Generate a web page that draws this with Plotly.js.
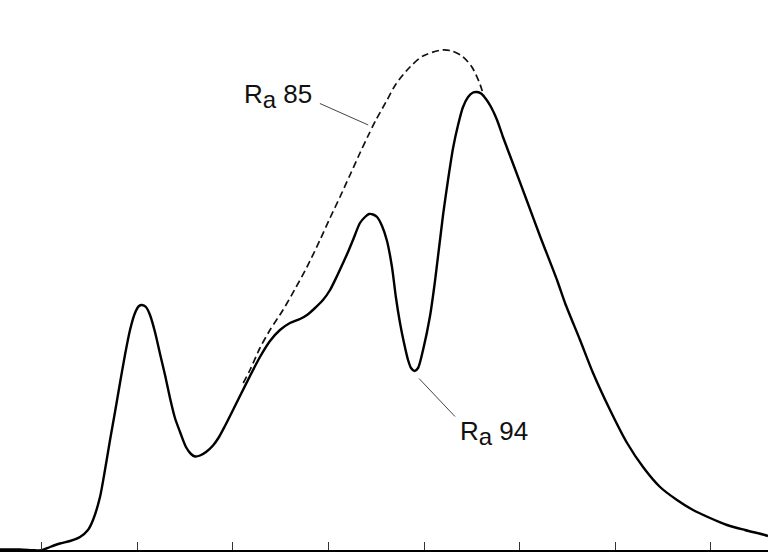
<!DOCTYPE html>
<html>
<head>
<meta charset="utf-8">
<script src="https://cdn.plot.ly/plotly-3.0.1.min.js"></script>
<style>
  html, body { margin: 0; padding: 0; background: #fff; }
  #chart { width: 768px; height: 554px; }
</style>
</head>
<body>
<div id="chart"></div>
<script>
// Solid curve (Ra 94)
const solidX = [-4.36, -2.27, -0.70, 0.03, 0.87, 1.91, 2.96, 4.01, 4.84, 5.37, 6.10, 6.62, 7.15, 7.67, 8.19, 8.71, 9.24, 9.76, 10.18, 10.49, 10.91, 11.33, 11.85, 12.38, 12.90, 13.42, 13.94, 14.47, 15.09, 15.62, 16.04, 16.56, 17.19, 17.92, 18.55, 19.17, 19.91, 20.74, 21.79, 22.83, 23.88, 24.92, 25.97, 27.02, 27.75, 28.59, 29.42, 30.16, 30.89, 31.52, 32.04, 32.56, 33.29, 33.82, 34.24, 34.66, 35.08, 35.60, 36.12, 36.64, 37.06, 37.48, 37.90, 38.32, 38.63, 39.00, 39.37, 39.89, 40.62, 41.14, 41.98, 42.50, 43.03, 43.55, 44.07, 44.60, 45.12, 45.54, 45.96, 46.47, 47.00, 47.63, 48.25, 49.51, 50.76, 52.12, 53.90, 54.74, 56.31, 57.67, 59.45, 61.23, 62.90, 64.68, 66.45, 68.13, 69.91, 71.68, 73.56, 75.65, 75.97];
const solidY = [0.1, 0.1, -0.06, -0.04, 0.6, 1.3, 1.8, 2.6, 4.0, 6.0, 10.6, 16, 22, 27.6, 33.4, 39, 44, 47.4, 48.8, 49, 48.6, 47, 43.6, 39.2, 35, 30.4, 26.4, 23.6, 20.6, 19.2, 18.7, 18.9, 19.6, 20.9, 22.6, 24.8, 27.6, 30.8, 34.8, 38.6, 41.8, 44, 45.4, 46.2, 47, 48.4, 50, 52, 54.8, 57.4, 59.6, 62, 65.4, 66.6, 67.2, 67.1, 66.6, 64.8, 61.8, 56.6, 50.4, 45.4, 41.4, 38, 36.4, 35.8, 36.4, 40, 46.8, 53.8, 67, 74, 80.4, 85, 88.6, 90.6, 91.5, 91.6, 91.3, 90.2, 88.6, 86, 82.6, 76.2, 69.8, 62.8, 54, 49.4, 42, 35.4, 28, 21.4, 16.6, 12.6, 10, 8, 6.4, 5, 4, 3, 2.8];

// Dashed curve (Ra 85)
const dashX = [21.08, 21.79, 22.83, 23.88, 25.24, 26.50, 27.75, 29.11, 30.16, 31.20, 32.25, 33.29, 34.13, 34.96, 36.01, 37.06, 38.52, 39.88, 41.87, 42.91, 43.96, 45.00, 45.84, 46.26];
const dashY = [33.4, 36, 40.4, 44, 48, 52.2, 56.6, 62, 66.4, 70.6, 75, 79.4, 82.8, 86, 89.6, 93.2, 96.6, 98.8, 100, 99.8, 98.8, 96.6, 93.2, 90.6];

// x ticks (no labels)
const tickVals = [0, 10, 20, 30, 40, 50, 60, 70];

// Labels and their leader lines
const labelTexts = ['R<sub><span style="font-size:24px">a</span></sub> 85', 'R<sub><span style="font-size:24px">a</span></sub> 94'];
const labelX = [20.93, 43.5];
const labelY = [90.8, 23.4];
const leaderX0 = [29.10, 39.47];
const leaderY0 = [89.3, 34.3];
const leaderX1 = [34.16, 43.23];
const leaderY1 = [85.0, 26.7];

const traces = [
  {
    x: dashX, y: dashY, type: 'scatter', mode: 'lines',
    line: { color: '#111', width: 1.7, dash: '7px,4px', shape: 'spline', smoothing: 0.8 },
    hoverinfo: 'skip', showlegend: false
  },
  {
    x: solidX, y: solidY, type: 'scatter', mode: 'lines',
    line: { color: '#000', width: 2.4, shape: 'spline', smoothing: 0.7 },
    hoverinfo: 'skip', showlegend: false
  }
];

const annotations = labelTexts.map((t, i) => ({
  text: t, x: labelX[i], y: labelY[i], xref: 'x', yref: 'y',
  xanchor: 'left', yanchor: 'middle', showarrow: false,
  font: { family: 'Liberation Sans, Arial, sans-serif', size: 26, color: '#111' }
}));

const shapes = labelTexts.map((t, i) => ({
  type: 'line', xref: 'x', yref: 'y',
  x0: leaderX0[i], y0: leaderY0[i], x1: leaderX1[i], y1: leaderY1[i],
  line: { color: '#444', width: 1 }
}));

const layout = {
  width: 768, height: 554,
  margin: { l: 0, r: 0, t: 0, b: 0, pad: 0 },
  paper_bgcolor: '#fff', plot_bgcolor: '#fff',
  xaxis: {
    range: [-4.36, 75.97], showgrid: false, zeroline: false,
    showline: true, linecolor: '#000', linewidth: 1.5,
    ticks: 'inside', ticklen: 8, tickwidth: 1, tickcolor: '#333',
    tickvals: tickVals, showticklabels: false,
    anchor: 'free', position: 4 / 554, fixedrange: true
  },
  yaxis: {
    range: [-0.8, 110], visible: false, showgrid: false, zeroline: false, fixedrange: true
  },
  annotations: annotations,
  shapes: shapes,
  showlegend: false
};

Plotly.newPlot('chart', traces, layout, { displayModeBar: false, staticPlot: true });
</script>
</body>
</html>
